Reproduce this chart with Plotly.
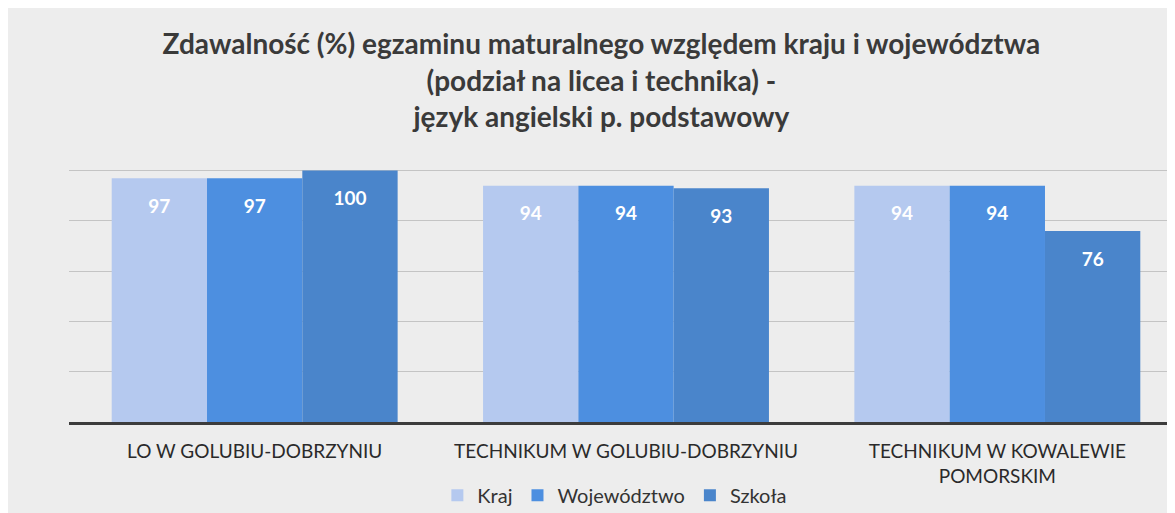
import plotly.graph_objects as go

categories = ['LO W GOLUBIU-DOBRZYNIU', 'TECHNIKUM W GOLUBIU-DOBRZYNIU',
              'TECHNIKUM W KOWALEWIE<br>POMORSKIM']
kraj = [97, 94, 94]
wojewodztwo = [97, 94, 94]
szkola = [100, 93, 76]

series = [
    ('Kraj', kraj, '#b5c9ef'),
    ('Województwo', wojewodztwo, '#4d8fe0'),
    ('Szkoła', szkola, '#4a85cb'),
]

fig = go.Figure()
for name, vals, color in series:
    fig.add_trace(go.Bar(
        x=categories, y=vals, name=name,
        marker=dict(color=color, line=dict(width=0)),
        text=["<span style='font-size:7px'> </span><br>" + str(v) for v in vals],
        textposition='inside', insidetextanchor='end',
        textfont=dict(color='white', size=19, family='Lato', weight='bold'),
        textangle=0,
    ))

fig.update_layout(
    width=1175, height=513,
    barmode='group', bargap=0.23, bargroupgap=0,
    paper_bgcolor='#ededed', plot_bgcolor='#ededed',
    font=dict(family='Lato', color='#333333'),
    title=dict(
        text='<b>Zdawalność (%) egzaminu maturalnego względem kraju i województwa<br>'
             '(podział na licea i technika) -<br>język angielski p. podstawowy</b>',
        x=0.505, xanchor='center', y=0.91, yanchor='top',
        font=dict(size=28, color='#3a3a3a'),
    ),
    margin=dict(l=61, r=0, t=145, b=99),
    legend=dict(orientation='h', x=0.49, xanchor='center', y=-0.2, yanchor='top',
                font=dict(size=20, color='#333333'), itemwidth=30,
                traceorder='normal'),
    uniformtext=dict(mode=False),
)
fig.update_xaxes(showline=True, linecolor='#3c3c3c', linewidth=3,
                 tickfont=dict(size=19, color='#2a2a2a'), ticks='',
                 ticklabelstandoff=10, range=[-0.5, 2.5])
fig.update_yaxes(range=[0, 107], dtick=20, showticklabels=False,
                 gridcolor='#c4c4c4', gridwidth=1, zeroline=False)

fig.write_html('out.html')
